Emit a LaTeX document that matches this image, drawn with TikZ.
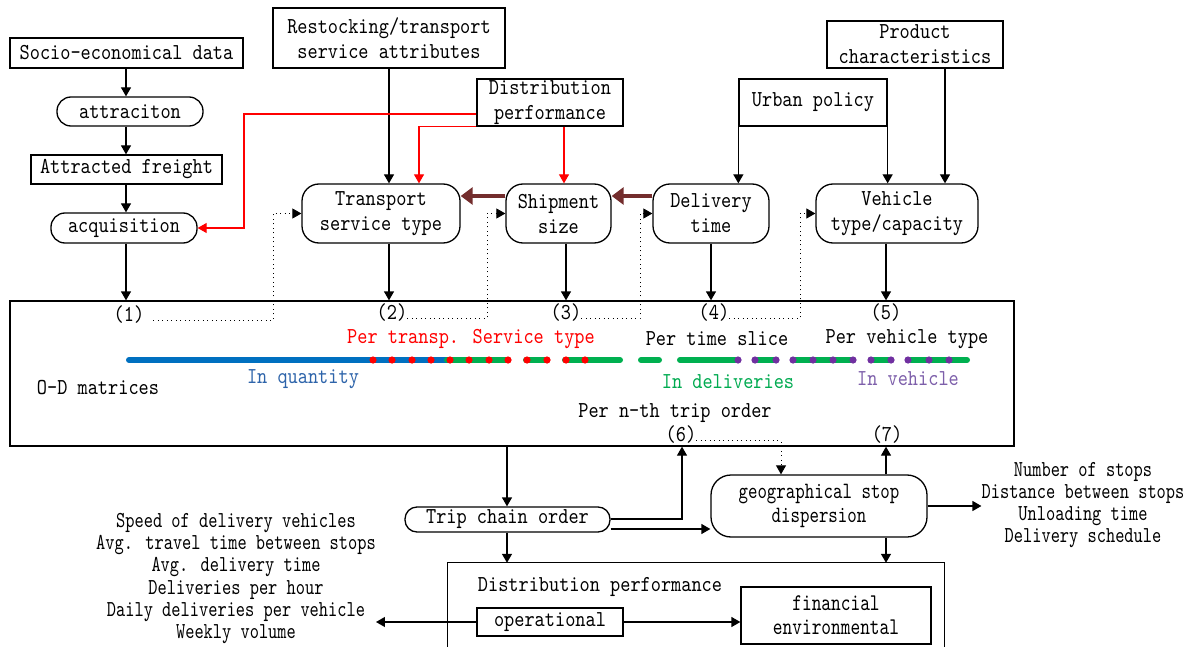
\documentclass[tikz,border=0pt]{standalone}
\usepackage{fontspec}
\newfontfamily\mfont{lmmono10-regular}[Extension=.otf, FakeStretch=0.85]
\newfontfamily\cfont{lmmono10-regular}[Extension=.otf, FakeStretch=0.77]
\usetikzlibrary{arrows.meta}
\definecolor{lblue}{RGB}{0,112,192}
\definecolor{lgreen}{RGB}{0,176,80}
\definecolor{lpurple}{RGB}{112,48,160}
\definecolor{tblue}{RGB}{46,100,170}
\definecolor{tgreen}{RGB}{0,170,80}
\definecolor{tpurple}{RGB}{125,95,170}
\definecolor{brn}{RGB}{115,45,45}
\begin{document}
\begin{tikzpicture}[x=1pt,y=-1pt,
 every node/.style={inner sep=0pt, font=\mfont\fontsize{22.8}{25}\selectfont},
 box/.style={draw, line width=1.3pt, align=center},
 rbox/.style={box, rounded corners=17pt},
 sbox/.style={box, rounded corners=12pt},
 lab/.style={text depth=2pt},
 arr/.style={line width=1.3pt, -{Triangle[width=10pt,length=9pt]}},
 rarr/.style={arr, draw=red, line width=1.2pt},
 barr/.style={draw=brn, line width=4.5pt, -{Triangle[width=17pt,length=12pt]}},
 darr/.style={line width=0.9pt, dash pattern=on 1pt off 3.5pt, -{Triangle[width=10pt,length=9pt]}},
 cond/.style={font=\cfont\fontsize{22.8}{22.2}\selectfont, align=center},
]
\useasboundingbox (0,0) rectangle (1191,647);

% top-left column
\node[box, minimum width=233pt, minimum height=30pt] (socio) at (126.5,53) {Socio-economical data};
\node[box, rounded corners=14pt, minimum width=146pt, minimum height=29pt] (attr) at (130,111.5) {attraciton};
\node[box, minimum width=191pt, minimum height=29pt] (freight) at (126.5,169.5) {Attracted freight};
\node[box, rounded corners=14pt, minimum width=146pt, minimum height=30pt] (acq) at (124,228) {acquisition};

% top boxes
\node[box, minimum width=232pt, minimum height=60pt] (restock) at (389,38) {Restocking/transport\\service attributes};
\node[box, minimum width=146pt, minimum height=47pt] (distperf) at (550,102.5) {Distribution\\performance};
\node[box, minimum width=148pt, minimum height=47pt] (urban) at (813,102.5) {Urban policy};
\node[box, minimum width=176pt, minimum height=47pt] (product) at (915,44.5) {Product\\characteristics};

% decision nodes
\node[rbox, minimum width=158pt, minimum height=59pt] (transport) at (381,213.5) {Transport\\service type};
\node[rbox, minimum width=105pt, minimum height=59pt] (shipment) at (558.5,213.5) {Shipment\\size};
\node[rbox, minimum width=116pt, minimum height=59pt] (delivery) at (711,213.5) {Delivery\\time};
\node[rbox, minimum width=162pt, minimum height=59pt] (vehicle) at (897,213.5) {Vehicle\\type/capacity};

% O-D box
\node[box, minimum width=1004pt, minimum height=145pt] (od) at (512,373.5) {};
\node[lab] (l1) at (129,315) {(1)};
\node[lab] (l2) at (392,313) {(2)};
\node[lab] (l3) at (566,313) {(3)};
\node[lab] (l4) at (714,313) {(4)};
\node[lab] (l5) at (886,313) {(5)};
\node[text=red] (ptst) at (471,339) {Per transp. Service type};
\node (pts) at (717,339) {Per time slice};
\node (pvt) at (907,339) {Per vehicle type};
\node[text=tblue] (inq) at (303,379) {In quantity};
\node[text=tgreen] (indel) at (728,382) {In deliveries};
\node[text=tpurple] (inveh) at (908,379) {In vehicle};
\node (odm) at (98,388) {O-D matrices};
\node (pnth) at (675,413) {Per n-th trip order};
\node[lab] (l6) at (681,435) {(6)};
\node[lab] (l7) at (887,435) {(7)};

% colored strip
\begin{scope}[line width=6pt, line cap=round]
\draw[lblue] (129,360) -- (447,360);
\foreach \a/\b in {447/508,526/547,565/620,641/659,680/735,758/776,795/851,874/891,911/967}
  \draw[lgreen] (\a,360) -- (\b,360);
\end{scope}
\foreach \x in {373,392,412,431,450,469,489,508,527,547,566,585}
  \fill[red] (\x,360) circle[radius=3.6pt];
\foreach \x in {738,755,776,793,813,833,853,871,891,908,929,949}
  \fill[lpurple] (\x,360) circle[radius=3.6pt];

% bottom part
\node[sbox, minimum width=205pt, minimum height=25pt] (trip) at (507.5,519.5) {Trip chain order};
\node[box, rounded corners=20pt, minimum width=216pt, minimum height=62pt, font=\cfont\fontsize{23.4}{24}\selectfont] (geo) at (819,506) {geographical stop\\dispersion};
\node[cond] (stops) at (1083,505) {Number of stops\\Distance between stops\\Unloading time\\Delivery schedule};
\node[cond] (perf) at (236,578.5) {Speed of delivery vehicles\\Avg. travel time between stops\\Avg. delivery time\\Deliveries per hour\\Daily deliveries per vehicle\\Weekly volume};
\node[minimum width=496pt, minimum height=84pt] (dpbox) at (696,605) {};
\draw[line width=1.3pt] (dpbox.south west) -- (dpbox.north west) -- (dpbox.north east) -- (dpbox.south east);
\node (dplabel) at (600,587) {Distribution performance};
\node[box, minimum width=146pt, minimum height=28pt] (op) at (550,622) {operational};
\node[box, minimum width=190pt, minimum height=57pt, font=\cfont\fontsize{24}{24}\selectfont] (fin) at (836,615.5) {financial\\environmental};

% helper coordinates
\coordinate (cA) at (126,0);
\coordinate (cB) at (389,0);
\coordinate (cC) at (566,0);
\coordinate (cD) at (711,0);
\coordinate (cE) at (886,0);
\coordinate (cF) at (945,0);
\coordinate (rx) at (419,0);
\coordinate (rz) at (564,0);
\coordinate (r1) at (244,114);
\coordinate (by) at (0,196);
\coordinate (d1) at (273,0);
\coordinate (d2) at (487,0);
\coordinate (d3) at (640,0);
\coordinate (d4) at (800,0);
\coordinate (xa) at (507,0);
\coordinate (x6) at (682,0);
\coordinate (x6d) at (781,0);
\coordinate (ty1) at (0,519);
\coordinate (ty2) at (0,529);

% black arrows
\draw[arr] (socio.south -| cA) -- (attr.north -| cA);
\draw[arr] (attr.south -| cA) -- (freight.north -| cA);
\draw[arr] (freight.south -| cA) -- (acq.north -| cA);
\draw[arr] (acq.south -| cA) -- (od.north -| cA);
\draw[arr] (restock.south -| cB) -- (transport.north -| cB);
\draw[arr] (transport.south -| cB) -- (od.north -| cB);
\draw[arr] (shipment.south -| cC) -- (od.north -| cC);
\draw[arr] (delivery.south -| cD) -- (od.north -| cD);
\draw[arr] (vehicle.south -| cE) -- (od.north -| cE);
\draw[arr] (urban.south west) -- (urban.south west |- delivery.north);
\draw[arr] (urban.south east) -- (urban.south east |- vehicle.north);
\draw[arr] (product.south -| cF) -- (vehicle.north -| cF);

% red arrows
\draw[rarr] (distperf.west |- r1) -- (r1) |- (acq.east);
\draw[rarr] (distperf.south west) -| (transport.north -| rx);
\draw[rarr] (distperf.south -| rz) -- (shipment.north -| rz);

% brown arrows
\draw[barr] (shipment.west |- by) -- (transport.east |- by);
\draw[barr] (delivery.west |- by) -- (shipment.east |- by);

% dotted arrows
\draw[darr] ([xshift=9pt,yshift=1pt]l1.base east) -| (transport.west -| d1) -- (transport.west);
\draw[darr] ([yshift=1pt]l2.base east) -| (shipment.west -| d2) -- (shipment.west);
\draw[darr] ([yshift=1pt]l3.base east) -| (delivery.west -| d3) -- (delivery.west);
\draw[darr] ([yshift=1pt]l4.base east) -| (vehicle.west -| d4) -- (vehicle.west);
\draw[darr] ([yshift=1pt]l6.base east) -| (geo.north -| x6d);

% bottom arrows
\draw[arr] (od.south -| xa) -- (trip.north -| xa);
\draw[arr] (trip.south -| xa) -- (dpbox.north -| xa);
\draw[arr] (trip.east |- ty1) -| (od.south -| x6);
\draw[arr] (trip.east |- ty2) -- (geo.west |- ty2);
\draw[arr] (geo.north -| cE) -- (od.south -| cE);
\draw[arr] (geo.south -| cE) -- (dpbox.north -| cE);
\draw[arr] (geo.east) -- (stops.west |- geo.east);
\draw[arr] (op.west) -- (perf.east |- op.west);
\draw[arr] (op.east) -- (fin.west |- op.east);
\end{tikzpicture}
\end{document}
